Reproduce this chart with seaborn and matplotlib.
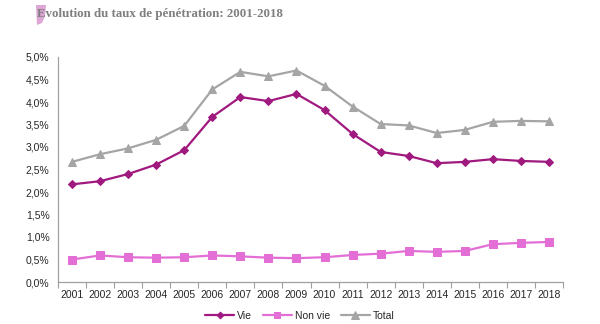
import matplotlib
matplotlib.use("Agg")
import matplotlib.pyplot as plt
from matplotlib.patches import Polygon
from matplotlib.ticker import FixedLocator, FuncFormatter
import seaborn as sns
import pandas as pd

years = [str(y) for y in range(2001, 2019)]
vie = [2.17, 2.24, 2.40, 2.61, 2.93, 3.67, 4.11, 4.02, 4.18, 3.82,
       3.29, 2.89, 2.80, 2.64, 2.67, 2.73, 2.69, 2.67]
non_vie = [0.50, 0.59, 0.55, 0.54, 0.55, 0.59, 0.57, 0.54, 0.53, 0.55,
           0.60, 0.63, 0.69, 0.67, 0.69, 0.84, 0.87, 0.89]
total = [2.67, 2.84, 2.97, 3.16, 3.47, 4.28, 4.67, 4.57, 4.70, 4.36,
         3.90, 3.51, 3.48, 3.31, 3.38, 3.56, 3.58, 3.57]
series_names = ["Vie", "Non vie", "Total"]

df = pd.DataFrame({"Année": years, "Vie": vie, "Non vie": non_vie, "Total": total})
long = df.melt(id_vars="Année", var_name="Série", value_name="Taux")
long["x"] = long["Année"].map({y: i for i, y in enumerate(years)})

sns.set_style("white")
plt.rcParams["font.family"] = ["Liberation Sans", "DejaVu Sans"]

fig = plt.figure(figsize=(6.0, 3.24), dpi=100)
ax = fig.add_axes([58 / 600, 1 - 282 / 324, (563 - 58) / 600, (282 - 57) / 324])

palette = {"Vie": "#A0197F", "Non vie": "#E36FD6", "Total": "#A5A5A5"}
markers = {"Vie": "D", "Non vie": "s", "Total": "^"}
sizes = {"Vie": 4.0, "Non vie": 5.5, "Total": 6.0}

for name in series_names:
    sub = long[long["Série"] == name]
    sns.lineplot(data=sub, x="x", y="Taux", ax=ax, color=palette[name],
                 marker=markers[name], markersize=sizes[name],
                 markeredgecolor=palette[name], linewidth=1.6, label=name)

ax.set_xlim(-0.5, len(years) - 0.5)
ax.set_ylim(0, 5.0)
ax.set_xlabel("")
ax.set_ylabel("")

ax.yaxis.set_major_locator(FixedLocator([i * 0.5 for i in range(11)]))
ax.yaxis.set_major_formatter(FuncFormatter(lambda v, p: f"{v:.1f}".replace(".", ",") + "%"))
ax.set_xticks(range(len(years)))
ax.set_xticklabels(years)
ax.xaxis.set_minor_locator(FixedLocator([i - 0.5 for i in range(len(years) + 1)]))
ax.tick_params(axis="x", which="major", length=0, labelsize=7.5, pad=6)
ax.tick_params(axis="x", which="minor", length=4, color="#A0A0A0", width=0.8, direction="out")
ax.tick_params(axis="y", which="major", length=4, color="#A0A0A0", width=0.8,
               direction="out", labelsize=7.5, pad=2)
ax.tick_params(bottom=False, which="major")
ax.xaxis.set_tick_params(which="minor", bottom=True)

for side in ["top", "right"]:
    ax.spines[side].set_visible(False)
for side in ["left", "bottom"]:
    ax.spines[side].set_color("#A0A0A0")
    ax.spines[side].set_linewidth(0.9)

leg = ax.legend(loc="center", bbox_to_anchor=(300 / 600, 1 - 316 / 324),
                bbox_transform=fig.transFigure, ncol=3, frameon=False,
                fontsize=7.5, handlelength=2.8, handletextpad=0.3,
                columnspacing=1.0, markerscale=0.85)

# Title with decorative accent
fig.text(37 / 600, 1 - 14 / 324, "Evolution du taux de pénétration: 2001-2018",
         fontsize=9.3, fontweight="bold", family=["Liberation Serif", "DejaVu Serif"],
         color="#7F7F7F", va="center", ha="left")
accent = Polygon([(36 / 600, 1 - 5 / 324), (46 / 600, 1 - 5 / 324),
                  (45 / 600, 1 - 16 / 324), (42 / 600, 1 - 23 / 324),
                  (37 / 600, 1 - 25 / 324)],
                 closed=True, transform=fig.transFigure, facecolor="#DDA6D4",
                 edgecolor="none", zorder=0)
fig.patches.append(accent)

fig.savefig("out.png", dpi=100, facecolor="white")
